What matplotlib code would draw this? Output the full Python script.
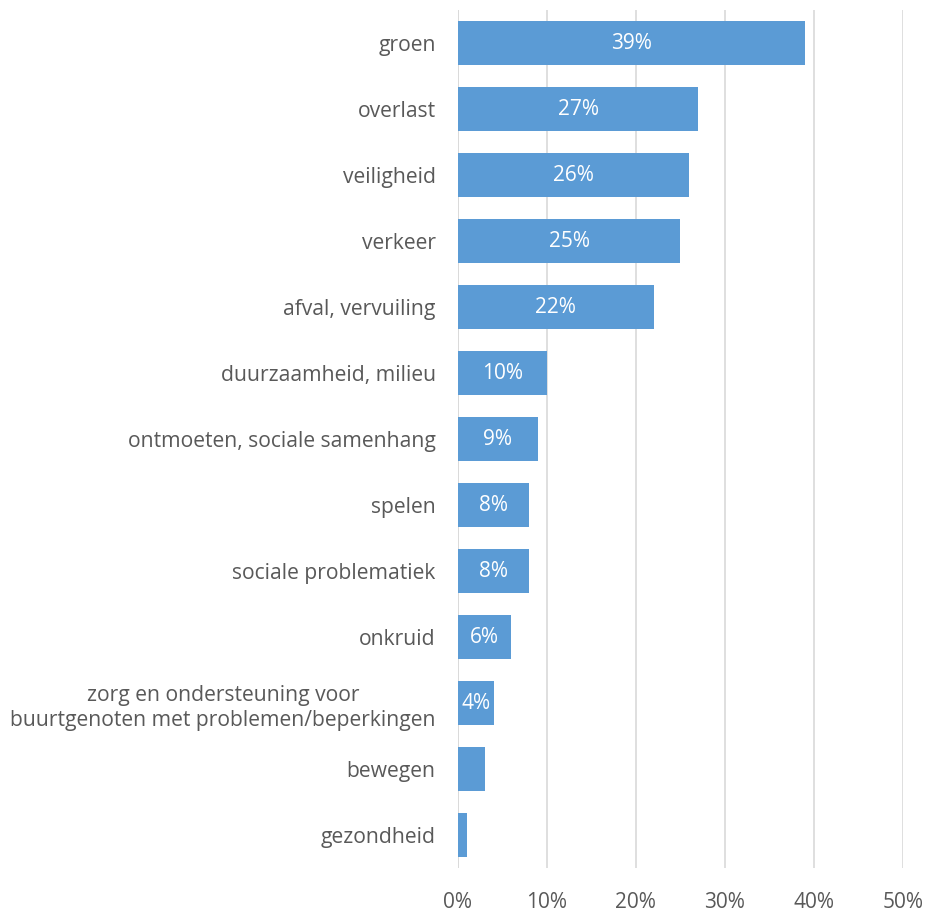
import numpy as np
from matplotlib import pyplot as plt

categories = ["groen", "overlast", "veiligheid", "verkeer", "afval, vervuiling",
              "duurzaamheid, milieu", "ontmoeten, sociale samenhang", "spelen",
              "sociale problematiek", "onkruid",
              "zorg en ondersteuning voor\nbuurtgenoten met problemen/beperkingen",
              "bewegen", "gezondheid"]
values = [39, 27, 26, 25, 22, 10, 9, 8, 8, 6, 4, 3, 1]
shown = [True] * 11 + [False, False]
xticks = [0, 10, 20, 30, 40, 50]

plt.rcParams['font.family'] = ['Open Sans', 'DejaVu Sans']
grey = '#595959'

fig = plt.figure(figsize=(9.27, 9.13), dpi=100)
ax = fig.add_axes([0.494, 0.049, 0.48, 0.94])

y = np.arange(len(categories))
bars = ax.barh(y, values, height=0.66, color='#5B9BD5', zorder=3)
for b, v, s in zip(bars, values, shown):
    if s:
        ax.text(v / 2, b.get_y() + b.get_height() / 2, f"{v}%", ha='center',
                va='center', color='white', fontsize=15, zorder=4)

ax.set_xlim(0, 50)
ax.set_ylim(len(categories) - 0.5, -0.5)
ax.set_yticks(y)
ax.set_yticklabels(categories, fontsize=15.2, color=grey, ha='right',
                   multialignment='center', linespacing=1.25)
ax.set_xticks(xticks)
ax.set_xticklabels([f"{t}%" for t in xticks], fontsize=15, color=grey)
ax.tick_params(length=0, axis='y', pad=16)
ax.tick_params(length=0, axis='x', pad=17)
ax.grid(axis='x', color='#D9D9D9', linewidth=1.2, zorder=0)
for sp in ax.spines.values():
    sp.set_visible(False)
ax.axvline(0, color='#D9D9D9', linewidth=1.2, zorder=1)

fig.savefig('out.png', dpi=100)
